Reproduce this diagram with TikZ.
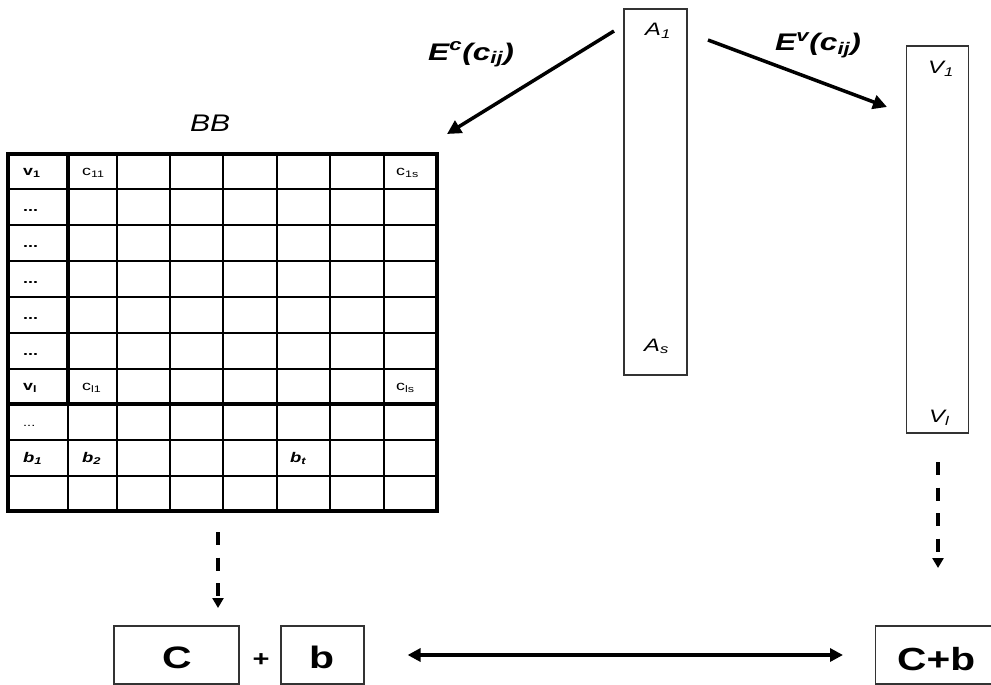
\documentclass[tikz,border=0pt]{standalone}
\usepackage{fontspec}
\usepackage{graphicx}
\setmainfont{Liberation Sans}
\usetikzlibrary{arrows.meta}
\newcommand{\sx}[1]{\scalebox{1.32}[1]{#1}}
\begin{document}
\begin{tikzpicture}[x=1pt,y=-1pt,
  thin grid/.style={line width=1.3pt},
  thick grid/.style={line width=3.7pt},
  box/.style={draw=black!80, line width=1.2pt, inner sep=0pt},
  txt/.style={anchor=base west, inner sep=0pt},
  cell/.style={txt, font=\fontsize{13.5}{15}\selectfont},
  bcell/.style={txt, font=\fontsize{14}{16}\selectfont\bfseries\itshape},
  lbl/.style={txt, font=\fontsize{18}{20}\selectfont\itshape},
  elbl/.style={txt, font=\fontsize{24}{26}\selectfont\bfseries\itshape},
  bigtxt/.style={txt, font=\fontsize{31}{34}\selectfont\bfseries},
  solidarrow/.style={line width=3.5pt, -{Triangle[length=14pt,width=14pt]}},
  dasharrow/.style={line width=4pt, dash pattern=on 13pt off 12.5pt, -{Triangle[length=10pt,width=11pt]}}
]
\useasboundingbox (0,0) rectangle (991,685);

% ---------- grid BB ----------
\foreach \x in {68,117,170,223,277,330,384}
  \draw[thin grid] (\x,154) -- (\x,511);
\foreach \y in {189,225,261,297,333,369,440,476}
  \draw[thin grid] (8,\y) -- (437,\y);
\draw[thick grid] (68,154) -- (68,404);
\draw[thick grid] (8,404) -- (437,404);
\draw[thick grid] (8,154) rectangle (437,511);
\node[draw=none, minimum width=429pt, minimum height=357pt, inner sep=0pt] (grid) at (222.5,332.5) {};

\node[txt, font=\fontsize{24}{26}\selectfont\itshape] (bb) at (190,131) {\scalebox{1.25}[1]{BB}};

\node[cell, font=\fontsize{13.5}{15}\selectfont\bfseries] (v1) at (23,175) {\sx{v\textsubscript{1}}};
\node[cell] (c11) at (82,175) {\sx{c\textsubscript{11}}};
\node[cell] (c1s) at (396,175) {\sx{c\textsubscript{1s}}};
\foreach \y/\n in {211/d1,247/d2,283/d3,319/d4,355/d5}
  \node[cell, font=\fontsize{13.5}{15}\selectfont\bfseries] (\n) at (23,\y) {\sx{...}};
\node[cell, font=\fontsize{13.5}{15}\selectfont\bfseries] (vl) at (23,390) {\sx{v\textsubscript{l}}};
\node[cell] (cl1) at (82,390) {\sx{c\textsubscript{l1}}};
\node[cell] (cls) at (396,390) {\sx{c\textsubscript{ls}}};
\node[cell, font=\fontsize{11}{13}\selectfont] (d6) at (23,426) {\sx{...}};
\node[bcell] (b1) at (23,462) {\sx{b\textsubscript{1}}};
\node[bcell] (b2) at (82,462) {\sx{b\textsubscript{2}}};
\node[bcell] (bt) at (290,462) {\sx{b\textsubscript{t}}};

% ---------- A column ----------
\node[box, minimum width=63pt, minimum height=366pt] (Abox) at (655.5,192) {};
\node[lbl] (A1) at (645,36) {\sx{A\textsubscript{1}}};
\node[lbl] (As) at (644,351) {\sx{A\textsubscript{s}}};

% ---------- V column ----------
\node[box, minimum width=62pt, minimum height=387pt] (Vbox) at (937.5,239.5) {};
\node[lbl] (V1) at (928,74) {\sx{V\textsubscript{1}}};
\node[lbl] (Vl) at (929,422) {\sx{V\textsubscript{l}}};

% ---------- solid arrows with labels ----------
\coordinate (ecs) at (614,31);
\coordinate (ece) at (447,134);
\draw[solidarrow] (ecs) -- (ece);
\node[elbl] (Ec) at (428,60) {\sx{E\textsuperscript{c}(c\textsubscript{ij})}};

\coordinate (evs) at (708,40);
\coordinate (eve) at (887,107);
\draw[solidarrow] (evs) -- (eve);
\node[elbl] (Ev) at (775,51) {\sx{E\textsuperscript{v}(c\textsubscript{ij})}};

% ---------- bottom boxes ----------
\node[box, minimum width=125pt, minimum height=58pt] (C) at (176.5,655) {};
\node[bigtxt] (Ct) at (162,668) {\sx{C}};
\node[inner sep=0pt, font=\fontsize{22}{24}\selectfont\bfseries] (plus) at (261,660) {\sx{+}};
\node[box, minimum width=83pt, minimum height=58pt] (b) at (322.5,655) {};
\node[bigtxt] (bT) at (309,668) {\sx{b}};
\node[box, minimum width=125pt, minimum height=58pt, anchor=west] (Cb) at (875,655) {};
\node[bigtxt, font=\fontsize{32}{34}\selectfont\bfseries] (CbT) at (897,670) {\scalebox{1.27}[1]{C+b}};

% ---------- dashed arrows ----------
\coordinate (d1s) at (218,532);
\coordinate (d1e) at (218,608);
\draw[dasharrow] (d1s) -- (d1e);
\coordinate (d2s) at (938,462);
\coordinate (d2e) at (938,568);
\draw[dasharrow] (d2s) -- (d2e);

% ---------- double arrow ----------
\draw[line width=4pt, {Triangle[length=13pt,width=13pt]}-{Triangle[length=13pt,width=13pt]}, shorten <=43pt, shorten >=32pt] (b.east) -- (Cb.west);
\end{tikzpicture}
\end{document}
